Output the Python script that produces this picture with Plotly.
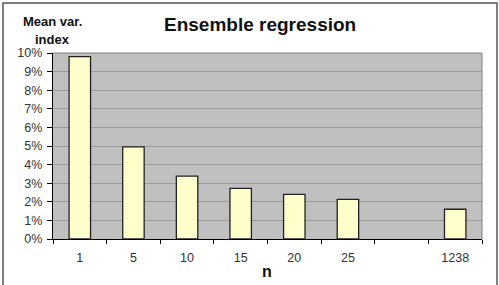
import plotly.graph_objects as go

categories = ["1", "5", "10", "15", "20", "25", " ", "1238"]
values = [9.8, 4.95, 3.38, 2.72, 2.4, 2.13, None, 1.6]
y_ticks = [0, 1, 2, 3, 4, 5, 6, 7, 8, 9, 10]
y_tick_labels = [f"{v}%" for v in y_ticks]

W, H = 499, 285
L, R, T, B = 53, 17, 53, 46  # plot area 53..482 x, 53..239 y
pw = W - L - R
ph = H - T - B

fig = go.Figure()
fig.add_trace(go.Bar(
    x=categories, y=values, width=0.4,
    marker=dict(color="#FFFFCC", line=dict(color="#222222", width=1.3)),
    showlegend=False, hoverinfo="skip",
))

font = "Liberation Sans, Arial, sans-serif"


def px_x(x):
    return (x - L) / pw


def px_y(y):
    return (H - B - y) / ph


fig.update_layout(
    width=W, height=H,
    margin=dict(l=L, r=R, t=T, b=B),
    paper_bgcolor="white", plot_bgcolor="#C0C0C0",
    font=dict(family=font, size=12, color="#333333"),
    bargap=0.6,
    xaxis=dict(
        type="category", categoryorder="array", categoryarray=categories,
        tickson="boundaries", ticks="outside", ticklen=4, tickcolor="#000000",
        showline=True, linecolor="#000000", linewidth=1.3,
        showgrid=False, tickfont=dict(size=12.5, color="#333333"),
        ticklabelstandoff=7,
    ),
    yaxis=dict(
        range=[0, 10], tickvals=y_ticks, ticktext=y_tick_labels,
        ticks="outside", ticklen=5, tickcolor="#000000",
        showline=True, linecolor="#000000", linewidth=1.3,
        showgrid=True, gridcolor="#9A9A9A", gridwidth=1,
        zeroline=False, tickfont=dict(size=12.5, color="#333333"),
        ticklabelstandoff=2,
    ),
    annotations=[
        dict(text="<b>Ensemble regression</b>", xref="paper", yref="paper",
             x=px_x(260), y=px_y(25), xanchor="center", yanchor="middle",
             showarrow=False, font=dict(size=19, color="#111111", family=font)),
        dict(text="<b>Mean var.</b>", xref="paper", yref="paper",
             x=px_x(52), y=px_y(22), xanchor="center", yanchor="middle",
             showarrow=False, font=dict(size=13, color="#111111", family=font)),
        dict(text="<b>index</b>", xref="paper", yref="paper",
             x=px_x(52), y=px_y(39), xanchor="center", yanchor="middle",
             showarrow=False, font=dict(size=13, color="#111111", family=font)),
        dict(text="<b>n</b>", xref="paper", yref="paper",
             x=px_x(267), y=px_y(271), xanchor="center", yanchor="middle",
             showarrow=False, font=dict(size=16, color="#111111", family=font)),
    ],
    shapes=[
        dict(type="line", xref="paper", yref="paper", x0=0, x1=1, y0=1, y1=1,
             line=dict(color="#808080", width=1)),
        dict(type="line", xref="paper", yref="paper", x0=1, x1=1, y0=0, y1=1,
             line=dict(color="#808080", width=1)),
        dict(type="rect", xref="paper", yref="paper",
             x0=px_x(3), x1=px_x(497),
             y0=px_y(300), y1=px_y(3),
             line=dict(color="#555555", width=1.5), layer="below"),
    ],
)

fig.write_html("out.html")
